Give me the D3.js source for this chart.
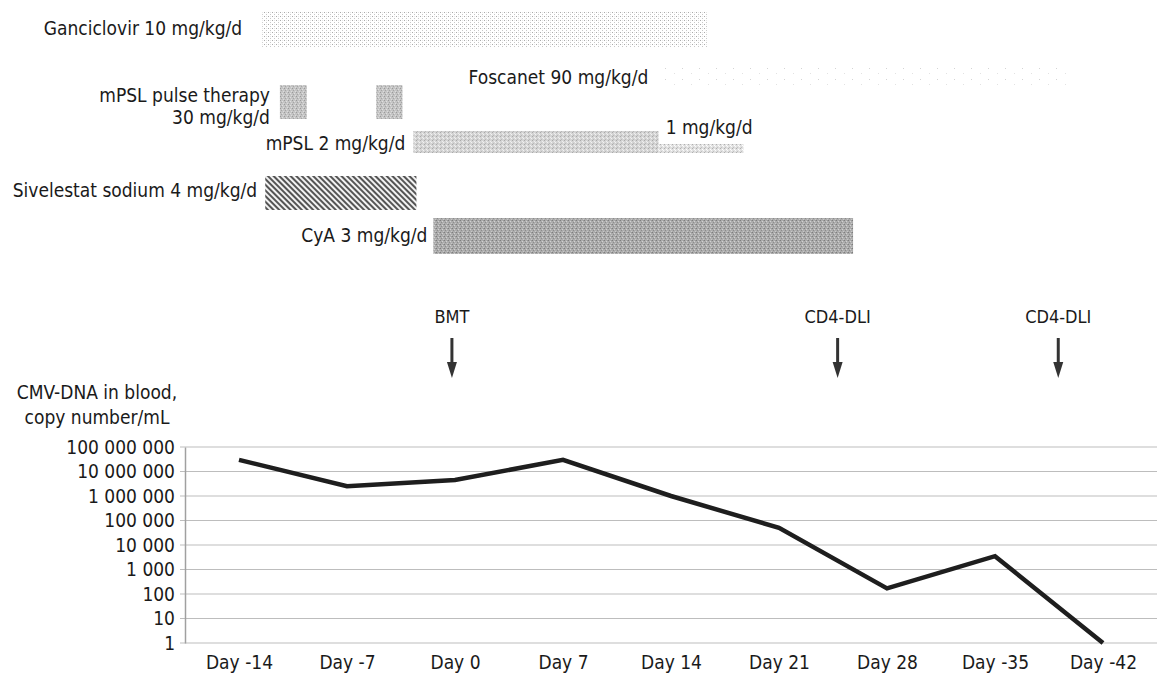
<!DOCTYPE html>
<html>
<head>
<meta charset="utf-8">
<script src="https://cdnjs.cloudflare.com/ajax/libs/d3/7.8.5/d3.min.js"></script>
<style>
    body { margin: 0; background: #fff; }
    text { font-family: "Liberation Sans Narrow", "DejaVu Sans Condensed", "Open Sans", sans-serif; fill: #1a1a1a; }
</style>
</head>
<body>
<div id="chart"></div>
<script>
// categories on the x axis (labels kept as printed)
var days = ["Day -14", "Day -7", "Day 0", "Day 7", "Day 14", "Day 21", "Day 28", "Day -35", "Day -42"];
// CMV-DNA copies/mL
var cmvCopies = [30000000, 2500000, 4500000, 30000000, 1000000, 50000, 170, 3500, 1];
var yTicks = [1, 10, 100, 1000, 10000, 100000, 1000000, 10000000, 100000000];

// treatments, in days relative to BMT
var drugLabels = ["Ganciclovir 10 mg/kg/d", "Foscanet 90 mg/kg/d", "mPSL pulse therapy|30 mg/kg/d", "",
    "mPSL 2 mg/kg/d", "1 mg/kg/d", "Sivelestat sodium 4 mg/kg/d", "CyA 3 mg/kg/d"];
var drugStart = [-12.5, 13.5, -11.35, -5.1, -2.7, 13.2, -12.3, -1.4];
var drugEnd = [16.4, 39.7, -9.6, -3.4, 13.2, 18.7, -2.5, 25.8];

var eventLabels = ["BMT", "CD4-DLI", "CD4-DLI"];
var eventDays = [-0.2, 24.8, 39.1];

// layout for each treatment bar
var drugStyle = [
    {y: 12, h: 35, fill: "url(#dots)", ly: 28, anchor: "end", dx: -20},
    {y: 64, h: 26, fill: "url(#sparse)", ly: 77, anchor: "end", dx: -15},
    {y: 85, h: 34, fill: "url(#grainMid)", ly: 95, anchor: "end", dx: -10},
    {y: 85, h: 34, fill: "url(#grainMid)", ly: 0, anchor: "end", dx: 0},
    {y: 131, h: 22, fill: "url(#grainLight)", ly: 143, anchor: "end", dx: -8},
    {y: 144, h: 9, fill: "url(#grainPale)", ly: 127, anchor: "start", dx: 7},
    {y: 176, h: 34, fill: "url(#hatch)", ly: 190, anchor: "end", dx: -8},
    {y: 218, h: 36, fill: "url(#grainDark)", ly: 235, anchor: "end", dx: -6}
];

var width = 1159, height = 673;
var margin = {top: 447, right: 2, bottom: 30, left: 185};

var svg = d3.select("#chart").append("svg")
    .attr("width", width)
    .attr("height", height);

// textures
var defs = svg.append("defs");

function grain(id, bg, cells) {
    var p = defs.append("pattern")
        .attr("id", id)
        .attr("patternUnits", "userSpaceOnUse")
        .attr("width", 4).attr("height", 4);
    p.append("rect").attr("width", 4).attr("height", 4).attr("fill", bg);
    cells.forEach(function(c) {
        p.append("rect").attr("x", c[0]).attr("y", c[1]).attr("width", 1).attr("height", 1).attr("fill", c[2]);
    });
}
grain("grainDark", "#acacac", [[0, 0, "#7e7e7e"], [2, 1, "#d2d2d2"], [1, 2, "#8c8c8c"], [3, 3, "#c8c8c8"], [3, 0, "#999"]]);
grain("grainMid", "#c4c4c4", [[0, 0, "#9a9a9a"], [2, 1, "#e0e0e0"], [1, 2, "#a5a5a5"], [3, 3, "#dcdcdc"]]);
grain("grainLight", "#d4d4d4", [[0, 0, "#aaa"], [2, 1, "#eee"], [1, 3, "#b8b8b8"], [3, 2, "#f2f2f2"]]);
grain("grainPale", "#e0e0e0", [[0, 0, "#b0b0b0"], [2, 1, "#fff"], [1, 3, "#c0c0c0"], [3, 2, "#fafafa"]]);
grain("dots", "#fff", [[0, 0, "#aaa"], [2, 2, "#c8c8c8"], [2, 0, "#e6e6e6"]]);

var sparse = defs.append("pattern")
    .attr("id", "sparse")
    .attr("patternUnits", "userSpaceOnUse")
    .attr("width", 17).attr("height", 11);
sparse.append("rect").attr("x", 2).attr("y", 2).attr("width", 1).attr("height", 1).attr("fill", "#d4d4d4");
sparse.append("rect").attr("x", 11).attr("y", 7).attr("width", 1).attr("height", 1).attr("fill", "#e2e2e2");

var hatch = defs.append("pattern")
    .attr("id", "hatch")
    .attr("patternUnits", "userSpaceOnUse")
    .attr("width", 4).attr("height", 4)
    .attr("patternTransform", "rotate(-45)");
hatch.append("rect").attr("width", 4).attr("height", 4).attr("fill", "#f2f2f2");
hatch.append("rect").attr("width", 2).attr("height", 4).attr("fill", "#555");

// scales
var x = d3.scalePoint()
    .domain(days)
    .range([margin.left, width - margin.right])
    .padding(0.5);

var step = x.step();

// day scale shares the category spacing (7 days per category)
var dayScale = d3.scaleLinear()
    .domain([-14, 42])
    .range([x("Day -14"), x("Day -14") + step * 8]);

var y = d3.scaleLog()
    .domain([1, 100000000])
    .range([height - margin.bottom, margin.top]);

// treatment bars
var drugs = drugLabels.map(function(l, i) {
    return {label: l, start: drugStart[i], end: drugEnd[i], s: drugStyle[i]};
});

svg.selectAll(".drug")
    .data(drugs)
    .enter()
    .append("rect")
    .attr("class", "drug")
    .attr("x", function(d) { return dayScale(d.start); })
    .attr("y", function(d) { return d.s.y; })
    .attr("width", function(d) { return dayScale(d.end) - dayScale(d.start); })
    .attr("height", function(d) { return d.s.h; })
    .attr("fill", function(d) { return d.s.fill; });

drugs.forEach(function(d) {
    if (!d.label) return;
    var lines = d.label.split("|");
    var t = svg.append("text")
        .attr("x", dayScale(d.start) + d.s.dx)
        .attr("y", d.s.ly)
        .attr("dy", "0.35em")
        .attr("text-anchor", d.s.anchor)
        .style("font-size", "19px");
    lines.forEach(function(l, j) {
        t.append("tspan")
            .attr("x", dayScale(d.start) + d.s.dx)
            .attr("dy", j === 0 ? "0.35em" : "1.15em")
            .text(l);
    });
});

// event arrows
eventLabels.forEach(function(l, i) {
    var ex = dayScale(eventDays[i]);
    svg.append("text")
        .attr("x", ex)
        .attr("y", 323)
        .attr("text-anchor", "middle")
        .style("font-size", "18px")
        .text(l);
    svg.append("line")
        .attr("x1", ex).attr("x2", ex)
        .attr("y1", 338).attr("y2", 366)
        .attr("stroke", "#333")
        .attr("stroke-width", 3);
    svg.append("path")
        .attr("d", "M" + (ex - 5) + ",362 L" + (ex + 5) + ",362 L" + ex + ",378 Z")
        .attr("fill", "#333");
});

// gridlines
svg.append("g")
    .selectAll("line")
    .data(yTicks)
    .enter()
    .append("line")
    .attr("x1", margin.left - 5)
    .attr("x2", width - margin.right)
    .attr("y1", function(d) { return y(d); })
    .attr("y2", function(d) { return y(d); })
    .attr("stroke", "#bdbdbd")
    .attr("stroke-width", 1);

// y axis
var fmt = function(d) { return d3.format(",")(d).replace(/,/g, " "); };

var yAxis = d3.axisLeft(y)
    .tickValues(yTicks)
    .tickFormat(fmt)
    .tickSize(0)
    .tickPadding(10);

var gy = svg.append("g")
    .attr("class", "y-axis axis")
    .attr("transform", "translate(" + margin.left + ",0)")
    .call(yAxis);
gy.select(".domain").attr("stroke", "#a0a0a0").attr("stroke-width", 1.5);
gy.selectAll("text")
    .style("font-size", "19px")
    .style("fill", "#1a1a1a");

// x axis
var xAxis = d3.axisBottom(x)
    .tickSize(0)
    .tickPadding(13);

var gx = svg.append("g")
    .attr("class", "x-axis axis")
    .attr("transform", "translate(0," + y(1) + ")")
    .call(xAxis);
gx.select(".domain").remove();
gx.selectAll("text")
    .style("font-size", "19px")
    .style("fill", "#1a1a1a");

// y axis title
svg.append("text")
    .attr("x", 97)
    .attr("y", 399)
    .attr("text-anchor", "middle")
    .style("font-size", "19px")
    .text("CMV-DNA in blood,");
svg.append("text")
    .attr("x", 97)
    .attr("y", 424)
    .attr("text-anchor", "middle")
    .style("font-size", "19px")
    .text("copy number/mL");

// CMV line
var line = d3.line()
    .x(function(d, i) { return x(days[i]); })
    .y(function(d) { return y(d); });

svg.append("path")
    .datum(cmvCopies)
    .attr("d", line)
    .attr("fill", "none")
    .attr("stroke", "#1e1e1e")
    .attr("stroke-width", 4.5)
    .attr("stroke-linejoin", "miter");
</script>
</body>
</html>
